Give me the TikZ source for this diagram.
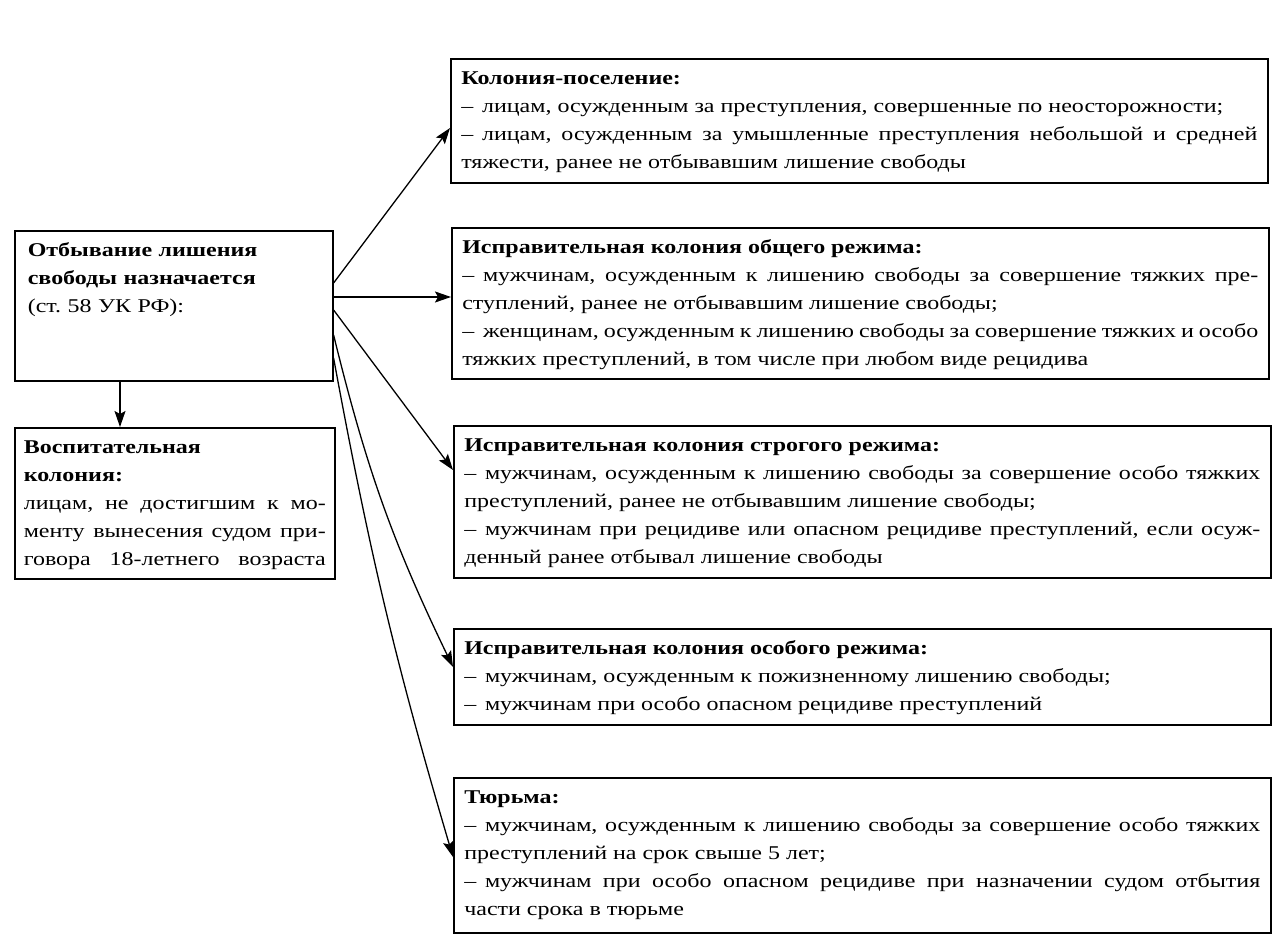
\documentclass[tikz,border=0pt]{standalone}
\usepackage{fontspec}
\setmainfont{Liberation Serif}[FakeStretch=1.23]
\usetikzlibrary{arrows.meta}
\frenchspacing
\newcommand{\itemdash}{–\hspace{0.45em}}

\tikzset{
  box/.style={draw, line width=1.6pt, anchor=north west, inner xsep=10.5pt,
    inner ysep=6pt, text height=20pt, text width=796pt, align=justify,
    font=\fontsize{19.5}{28}\selectfont},
  arr/.style={line width=1.3pt, -{Stealth[length=16pt,width=11pt,inset=3pt]}}
}

\begin{document}
\begin{tikzpicture}[x=1pt,y=-1pt]
    \useasboundingbox (0,0) rectangle (1287,949);

    % Left column
    \node[box, text width=292pt, inner xsep=13pt, align=left, text depth=118pt]
      (main) at (14,230) {\textbf{Отбывание лишения}\\\textbf{свободы назначается}\\(ст. 58 УК РФ):};
    \node[box, text width=302pt, inner xsep=9pt, text depth=119pt]
      (vosp) at (14,427) {\textbf{Воспитательная}\par\textbf{колония:}\par
        лицам, не достигшим к мо-\linebreak менту вынесения судом при-\linebreak
        говора 18-летнего возраста\parfillskip=0pt\par};

    % Right column
    \node[box, text depth=92pt] (kp) at (450,58) {\textbf{Колония-поселение:}\par
      \itemdash лицам, осужденным за преступления, совершенные по неосторожности;\par
      \itemdash лицам, осужденным за умышленные преступления небольшой и средней\linebreak
      тяжести, ранее не отбывавшим лишение свободы};
    \node[box, text depth=119pt] (obsh) at (451,227) {\textbf{Исправительная колония общего режима:}\par
      \itemdash мужчинам, осужденным к лишению свободы за совершение тяжких пре-\linebreak
      ступлений, ранее не отбывавшим лишение свободы;\par
      \itemdash женщинам, осужденным к лишению свободы за совершение тяжких и особо\linebreak
      тяжких преступлений, в том числе при любом виде рецидива};
    \node[box, text depth=120pt] (strog) at (453,425) {\textbf{Исправительная колония строгого режима:}\par
      \itemdash мужчинам, осужденным к лишению свободы за совершение особо тяжких\linebreak
      преступлений, ранее не отбывавшим лишение свободы;\par
      \itemdash мужчинам при рецидиве или опасном рецидиве преступлений, если осуж-\linebreak
      денный ранее отбывал лишение свободы};
    \node[box, text depth=64pt] (osob) at (453,628) {\textbf{Исправительная колония особого режима:}\par
      \itemdash мужчинам, осужденным к пожизненному лишению свободы;\par
      \itemdash мужчинам при особо опасном рецидиве преступлений};
    \node[box, text depth=123pt] (tyur) at (453,777) {\textbf{Тюрьма:}\par
      \itemdash мужчинам, осужденным к лишению свободы за совершение особо тяжких\linebreak
      преступлений на срок свыше 5 лет;\par
      \itemdash мужчинам при особо опасном рецидиве при назначении судом отбытия\linebreak
      части срока в тюрьме};

    % Arrows
    \draw[arr] ([xshift=106pt]main.south west) -- ([xshift=106pt]vosp.north west);
    \draw[arr] ([yshift=-53pt]main.north east) -- ([yshift=-70pt]kp.north west);
    \draw[arr] ([yshift=-67pt]main.north east) -- ([yshift=-70pt]obsh.north west);
    \draw[arr] ([yshift=-80pt]main.north east) -- ([yshift=-45pt]strog.north west);
    \draw[arr] ([yshift=-105pt]main.north east) to[bend right=6] ([yshift=-39pt]osob.north west);
    \draw[arr] ([yshift=-128pt]main.north east) to[bend right=3] ([yshift=-80pt]tyur.north west);
  \end{tikzpicture}
\end{document}
